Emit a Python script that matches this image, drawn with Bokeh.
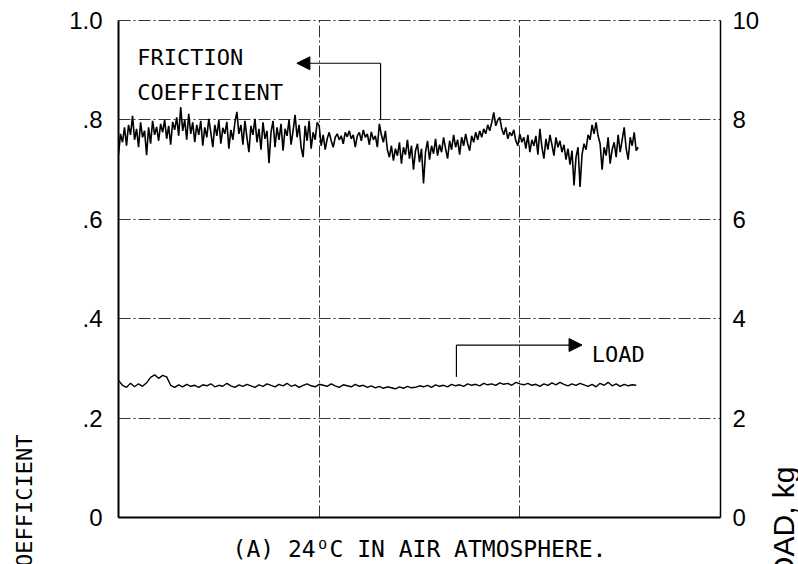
import numpy as np
from bokeh.plotting import figure
from bokeh.layouts import row
from bokeh.models import (Range1d, LinearAxis, FixedTicker, CustomJSTickFormatter,
                          Label, Arrow, NormalHead)
from bokeh.embed import file_html
from bokeh.resources import INLINE

# ---------------- data ----------------
# friction coefficient, sampled every 0.01 time units from 0 to 2.59
friction = [
    0.730, 0.772, 0.755, 0.785, 0.748, 0.790, 0.770, 0.808, 0.760, 0.782, 0.745, 0.795, 0.765, 0.778, 0.729, 0.785, 0.752, 0.798, 0.770, 0.786,
    0.758, 0.792, 0.775, 0.800, 0.762, 0.788, 0.750, 0.796, 0.780, 0.805, 0.768, 0.826, 0.778, 0.800, 0.760, 0.812, 0.772, 0.795, 0.755, 0.790,
    0.770, 0.798, 0.748, 0.785, 0.765, 0.802, 0.775, 0.745, 0.790, 0.768, 0.800, 0.752, 0.784, 0.772, 0.796, 0.742, 0.780, 0.760, 0.795, 0.816,
    0.772, 0.790, 0.750, 0.798, 0.765, 0.735, 0.788, 0.770, 0.802, 0.755, 0.782, 0.740, 0.795, 0.762, 0.778, 0.713, 0.775, 0.798, 0.745, 0.785,
    0.760, 0.792, 0.738, 0.782, 0.768, 0.800, 0.750, 0.778, 0.810, 0.765, 0.790, 0.745, 0.725, 0.788, 0.758, 0.798, 0.742, 0.775, 0.760, 0.795,
    0.788, 0.748, 0.770, 0.740, 0.762, 0.775, 0.758, 0.745, 0.765, 0.772, 0.760, 0.768, 0.752, 0.775, 0.766, 0.778, 0.762, 0.770, 0.745, 0.768,
    0.775, 0.758, 0.780, 0.765, 0.772, 0.750, 0.776, 0.760, 0.768, 0.745, 0.792, 0.770, 0.755, 0.778, 0.740, 0.725, 0.748, 0.718, 0.742, 0.728,
    0.755, 0.712, 0.745, 0.730, 0.760, 0.722, 0.748, 0.700, 0.738, 0.752, 0.715, 0.742, 0.672, 0.735, 0.758, 0.720, 0.748, 0.732, 0.762, 0.728,
    0.750, 0.735, 0.765, 0.742, 0.722, 0.758, 0.740, 0.770, 0.745, 0.760, 0.730, 0.765, 0.748, 0.772, 0.752, 0.738, 0.768, 0.755, 0.775, 0.760,
    0.778, 0.765, 0.782, 0.772, 0.790, 0.778, 0.795, 0.815, 0.788, 0.800, 0.805, 0.782, 0.770, 0.785, 0.762, 0.775, 0.768, 0.780, 0.758, 0.748,
    0.772, 0.755, 0.765, 0.742, 0.770, 0.735, 0.760, 0.748, 0.768, 0.730, 0.782, 0.745, 0.722, 0.762, 0.740, 0.770, 0.750, 0.728, 0.765, 0.745,
    0.758, 0.735, 0.750, 0.720, 0.742, 0.710, 0.738, 0.668, 0.725, 0.745, 0.665, 0.730, 0.752, 0.740, 0.770, 0.760, 0.790, 0.772, 0.795, 0.768,
    0.752, 0.700, 0.745, 0.728, 0.765, 0.712, 0.740, 0.755, 0.725, 0.770, 0.735, 0.760, 0.785, 0.742, 0.720, 0.765, 0.748, 0.775, 0.738, 0.745,
]
friction_step = 0.01

# load in kg, sampled every 0.02 time units from 0 to 2.58
load = [
    2.76, 2.66, 2.62, 2.70, 2.63, 2.69, 2.64, 2.71, 2.82, 2.87, 2.80, 2.86, 2.83,
    2.66, 2.62, 2.67, 2.63, 2.68, 2.64, 2.66, 2.62, 2.67, 2.65, 2.69, 2.63, 2.66, 2.64, 2.70, 2.65, 2.62, 2.67,
    2.64, 2.68, 2.65, 2.62, 2.67, 2.64, 2.69, 2.66, 2.63, 2.68, 2.65, 2.70, 2.64, 2.67, 2.62, 2.66, 2.69, 2.65, 2.63, 2.68, 2.66, 2.64, 2.69, 2.65, 2.62, 2.67, 2.65, 2.63, 2.68, 2.64,
    2.66, 2.62, 2.65, 2.61, 2.64, 2.60, 2.63, 2.61, 2.59, 2.63, 2.60, 2.64, 2.61, 2.62, 2.65, 2.63, 2.66, 2.62, 2.67, 2.64, 2.66, 2.63, 2.68, 2.65, 2.67, 2.64, 2.69, 2.66, 2.68, 2.65,
    2.70, 2.67, 2.69, 2.66, 2.71, 2.68, 2.70, 2.66, 2.72, 2.69, 2.67, 2.70, 2.66, 2.68, 2.64, 2.69, 2.66, 2.71, 2.67, 2.72, 2.68, 2.65, 2.69, 2.66, 2.70, 2.67, 2.64, 2.68, 2.63, 2.70, 2.66, 2.72, 2.65, 2.69, 2.64, 2.68, 2.65, 2.67, 2.66,
]
load_step = 0.02

left_ticks = [0, 0.2, 0.4, 0.6, 0.8, 1]
right_ticks = [0, 2, 4, 6, 8, 10]
x_grid_ticks = [1, 2]
y_grid_ticks = [0.2, 0.4, 0.6, 0.8]

left_title = "FRICTION COEFFICIENT"
right_title = "LOAD, kg"
caption = "(A) 24\u1D3CC IN AIR ATMOSPHERE."

friction_x = np.arange(len(friction)) * friction_step
load_x = np.arange(len(load)) * load_step

# ---------------- main figure ----------------
MONO = "DejaVu Sans Mono"
SANS = "Liberation Sans"
NBSP = "\u00A0"

p = figure(width=762, height=564, output_backend="svg", toolbar_location=None,
           x_range=Range1d(0, 3), y_range=Range1d(0, 1),
           min_border_left=118, min_border_right=40,
           min_border_top=20, min_border_bottom=46)
p.background_fill_color = "white"
p.border_fill_color = "white"
p.outline_line_color = "#333333"
p.outline_line_dash = "12 3 2 3"
p.outline_line_width = 1

p.extra_y_ranges = {"load": Range1d(0, 10)}

# grids
p.xgrid.ticker = FixedTicker(ticks=x_grid_ticks)
p.ygrid.ticker = FixedTicker(ticks=y_grid_ticks)
for g in (p.xgrid[0], p.ygrid[0]):
    g.grid_line_color = "#333333"
    g.grid_line_dash = "12 3 2 3"
    g.grid_line_width = 1

# bottom axis: line + caption
xa = p.xaxis[0]
xa.ticker = FixedTicker(ticks=[])
xa.axis_line_width = 2
xa.axis_line_color = "black"
xa.major_tick_line_color = None
xa.minor_tick_line_color = None
xa.major_label_text_font_size = "0px"
xa.major_label_standoff = 0
xa.axis_label = caption
xa.axis_label_text_font = MONO
xa.axis_label_text_font_size = "23px"
xa.axis_label_text_font_style = "normal"
xa.axis_label_text_color = "black"
xa.axis_label_standoff = 18

# left axis
ya = p.yaxis[0]
ya.ticker = FixedTicker(ticks=left_ticks)
ya.formatter = CustomJSTickFormatter(code="""
    if (tick == 0) return "0";
    if (tick >= 1) return "1.0";
    return "." + Math.round(tick * 10);
""")
ya.axis_line_width = 2
ya.axis_line_color = "black"
ya.major_tick_line_color = None
ya.minor_tick_line_color = None
ya.major_tick_out = 0
ya.major_tick_in = 0
ya.minor_tick_out = 0
ya.major_label_standoff = 16
ya.major_label_text_font = SANS
ya.major_label_text_font_size = "24px"
ya.major_label_text_color = "black"
# title is cropped at the bottom edge in the reference; padding shifts it down
ya.axis_label = left_title + NBSP * 45
ya.axis_label_text_font = MONO
ya.axis_label_text_font_size = "22px"
ya.axis_label_text_font_style = "normal"
ya.axis_label_text_color = "black"
ya.axis_label_standoff = 29

# right axis (load scale)
ra = LinearAxis(y_range_name="load", ticker=FixedTicker(ticks=right_ticks))
ra.axis_line_width = 1.5
ra.axis_line_color = "black"
ra.major_tick_line_color = None
ra.minor_tick_line_color = None
ra.major_tick_out = 0
ra.major_tick_in = 0
ra.minor_tick_out = 0
ra.axis_label_standoff = 0
ra.major_label_standoff = 12
ra.major_label_text_font = SANS
ra.major_label_text_font_size = "24px"
ra.major_label_text_color = "black"
p.add_layout(ra, "right")

# traces
p.line(friction_x, friction, line_color="black", line_width=1.6)
p.line(load_x, load, y_range_name="load", line_color="black", line_width=1.4)

# annotations inside the plot area
def lab(x, y, text, size="22px", font=MONO, **kw):
    p.add_layout(Label(x=x, y=y, text=text, text_font=font, text_font_size=size,
                       text_color="black", text_baseline="alphabetic", **kw))

lab(0.094, 0.926, "FRICTION")
lab(0.094, 0.855, "COEFFICIENT")
lab(2.359, 0.327, "LOAD")

p.add_layout(Arrow(end=None, x_start=1.306, y_start=0.8, x_end=1.306, y_end=0.914,
                   line_color="black", line_width=1.2))
p.add_layout(Arrow(end=NormalHead(size=13, fill_color="black", line_color="black"),
                   x_start=1.306, y_start=0.914, x_end=0.889, y_end=0.914,
                   line_color="black", line_width=1.2))
p.add_layout(Arrow(end=None, x_start=1.684, y_start=0.283, x_end=1.684, y_end=0.347,
                   line_color="black", line_width=1.2))
p.add_layout(Arrow(end=NormalHead(size=13, fill_color="black", line_color="black"),
                   x_start=1.684, y_start=0.347, x_end=2.310, y_end=0.347,
                   line_color="black", line_width=1.2))

# ---------------- narrow strip holding the (cropped) right-hand title ----------------
p2 = figure(width=36, height=564, output_backend="svg", toolbar_location=None,
            x_range=Range1d(0, 1), y_range=Range1d(0, 1), x_axis_location=None,
            min_border_left=35, min_border_right=0,
            min_border_top=20, min_border_bottom=46)
p2.background_fill_color = "white"
p2.border_fill_color = "white"
p2.outline_line_color = None
p2.grid.visible = False
ta = p2.yaxis[0]
ta.ticker = FixedTicker(ticks=[])
ta.axis_line_color = None
ta.major_tick_line_color = None
ta.minor_tick_line_color = None
ta.major_tick_out = 0
ta.major_tick_in = 0
ta.minor_tick_out = 0
ta.major_label_text_font_size = "0px"
ta.major_label_standoff = 0
ta.axis_label = right_title + NBSP * 63
ta.axis_label_text_font = SANS
ta.axis_label_text_font_size = "30px"
ta.axis_label_text_font_style = "normal"
ta.axis_label_text_color = "black"
ta.axis_label_standoff = -2

layout = row(p, p2, spacing=0)
open("out.html", "w").write(file_html(layout, INLINE))
